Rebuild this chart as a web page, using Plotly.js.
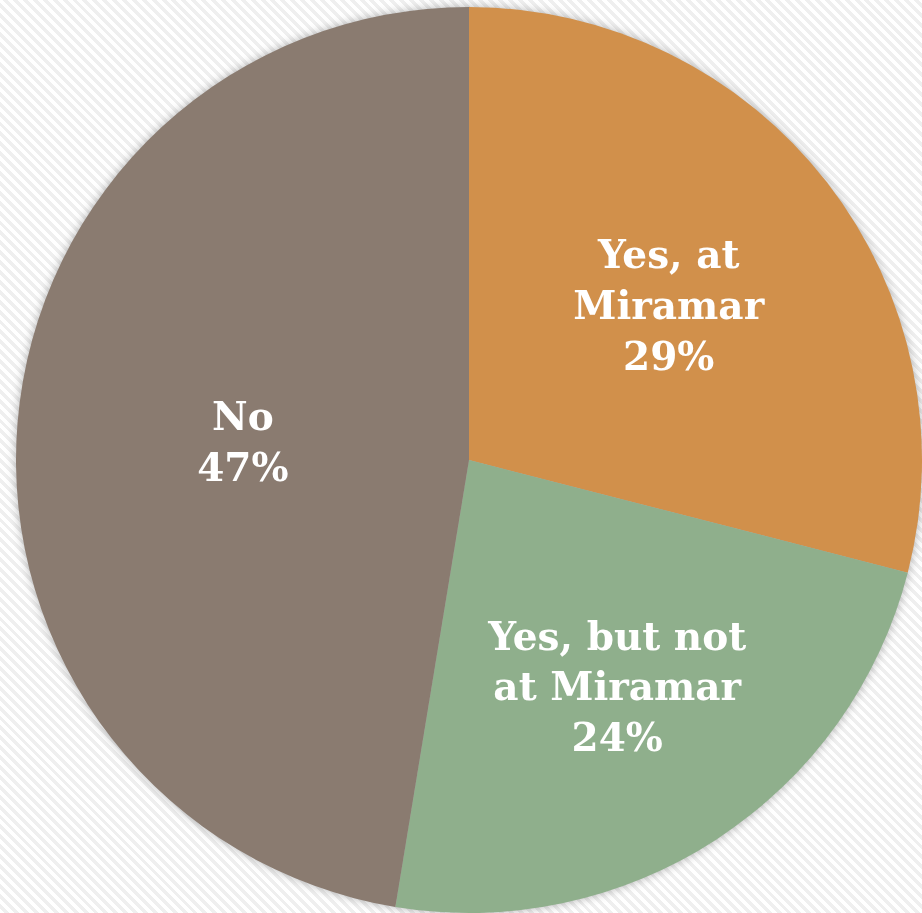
<!DOCTYPE html>
<html>
<head>
<meta charset="utf-8">
<script src="https://cdn.plot.ly/plotly-3.0.1.min.js"></script>
<style>
  html, body { margin: 0; padding: 0; }
  body {
    width: 922px; height: 913px; overflow: hidden;
    background: repeating-linear-gradient(45deg, #ffffff 0px, #ffffff 3.5px, #efefef 3.5px, #efefef 7px);
  }
  #chart { width: 922px; height: 913px; }
  #chart .pielayer { filter: drop-shadow(0 0 5px rgba(0,0,0,0.3)); }
</style>
</head>
<body>
<div id="chart"></div>
<script>
const categories = ["Yes, at<br>Miramar", "Yes, but not<br>at Miramar", "No"];
const values = [29.0, 23.6, 47.4];
const colors = ["#D1904B", "#8FAF8C", "#8A7B70"];

const trace = {
  type: "pie",
  labels: categories,
  values: values,
  sort: false,
  direction: "clockwise",
  rotation: 0,
  marker: { colors: colors, line: { width: 0 } },
  texttemplate: "%{label}<br>%{percent:.0%}",
  textposition: "inside",
  insidetextorientation: "horizontal",
  textfont: { family: "'DejaVu Serif', Georgia, serif", size: 39, color: "#ffffff", weight: "bold" },
  hoverinfo: "none",
  domain: { x: [16/922, 1], y: [0, 906/913] }
};

const layout = {
  width: 922, height: 913,
  margin: { l: 0, r: 0, t: 0, b: 0 },
  paper_bgcolor: "rgba(0,0,0,0)",
  plot_bgcolor: "rgba(0,0,0,0)",
  showlegend: false
};

Plotly.newPlot("chart", [trace], layout, { displayModeBar: false, staticPlot: true });
</script>
</body>
</html>
